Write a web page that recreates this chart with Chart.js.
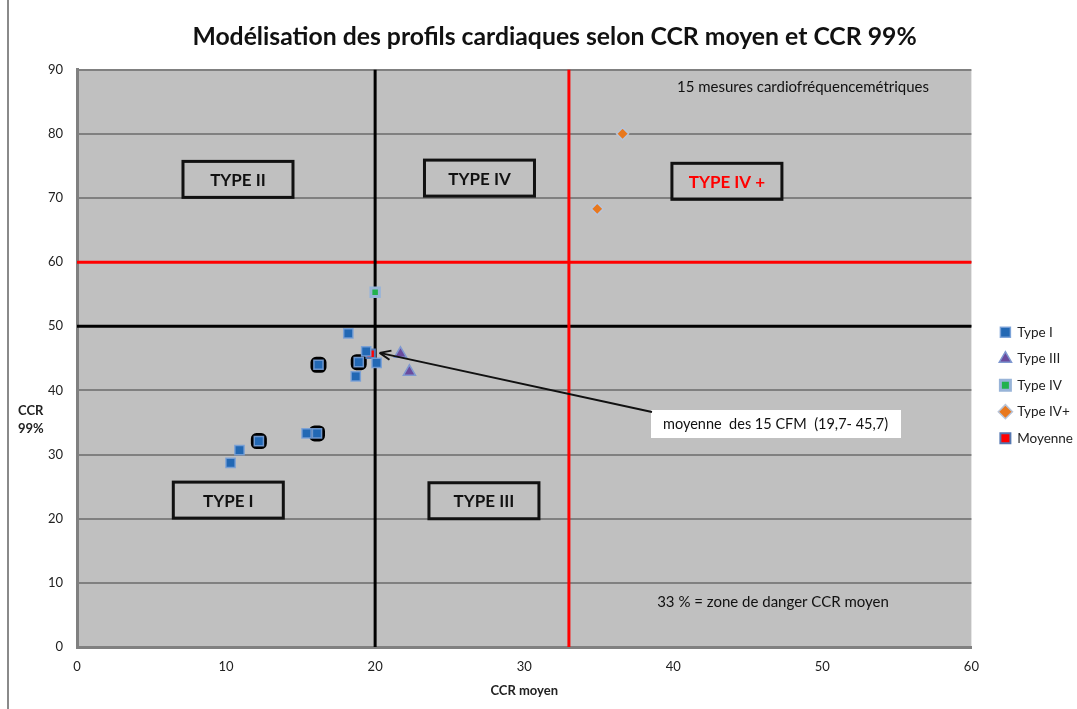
<!DOCTYPE html>
<html>
<head>
<meta charset="utf-8">
<script src="https://cdn.jsdelivr.net/npm/chart.js@4/dist/chart.umd.min.js"></script>
<style>
  html, body { margin: 0; padding: 0; background: #fff; }
  #wrap { width: 1077px; height: 709px; }
</style>
</head>
<body>
<div id="wrap"><canvas id="cardio"></canvas></div>
<script>
// values
const typeI_x   = [10.3, 10.9, 12.2, 15.4, 16.1, 16.2, 18.2, 18.7, 18.9, 19.4, 20.1];
const typeI_y   = [28.7, 30.7, 32.1, 33.3, 33.3, 44.0, 48.9, 42.2, 44.4, 46.1, 44.3];
const typeIII_x = [21.7, 22.3];
const typeIII_y = [45.7, 42.9];
const typeIV_x  = [20.0];
const typeIV_y  = [55.3];
const typeIVp_x = [36.6, 34.9];
const typeIVp_y = [80.0, 68.3];
const moyenne_x = [19.7];
const moyenne_y = [45.7];
// retained points (black framed squares)
const retenus_x = [12.2, 16.1, 16.2, 18.9];
const retenus_y = [32.1, 33.3, 44.0, 44.4];

const xTicks = [0, 10, 20, 30, 40, 50, 60];
const yTicks = [0, 10, 20, 30, 40, 50, 60, 70, 80, 90];

// threshold lines
const seuilX_noir = 20, seuilX_rouge = 33;
const seuilY_noir = 50, seuilY_rouge = 60;

const FONT = "Lato, 'Open Sans', sans-serif";

const pts = (xs, ys) => xs.map((x, i) => ({ x: x, y: ys[i] }));

// boxes: [label, x, y, colour]
const zoneBoxes = [
  ["TYPE II", 10.8, 72.9, "#111"],
  ["TYPE IV", 27.0, 73.1, "#111"],
  ["TYPE IV +", 43.6, 72.6, "#ff0000"],
  ["TYPE I", 10.15, 22.9, "#111"],
  ["TYPE III", 27.3, 22.8, "#111"]
];

const decor = {
  id: "decor",
  beforeDraw(chart) {
    const { ctx, chartArea: a } = chart;
    ctx.save();
    ctx.fillStyle = "#c0c0c0";
    ctx.fillRect(a.left, a.top, a.right - a.left, a.bottom - a.top);
    // outer frame (left edge)
    ctx.strokeStyle = "#8a8a8a";
    ctx.lineWidth = 2;
    ctx.beginPath();
    ctx.moveTo(8, 0);
    ctx.lineTo(8, 709);
    ctx.stroke();
    ctx.restore();
  },
  beforeDatasetsDraw(chart) {
    const { ctx, chartArea: a, scales: { x, y } } = chart;
    ctx.save();
    ctx.lineWidth = 3;
    const vline = (v, c) => {
      ctx.strokeStyle = c;
      ctx.beginPath();
      ctx.moveTo(x.getPixelForValue(v), a.top);
      ctx.lineTo(x.getPixelForValue(v), a.bottom);
      ctx.stroke();
    };
    const hline = (v, c) => {
      ctx.strokeStyle = c;
      ctx.beginPath();
      ctx.moveTo(a.left, y.getPixelForValue(v));
      ctx.lineTo(a.right, y.getPixelForValue(v));
      ctx.stroke();
    };
    hline(seuilY_noir, "#000");
    hline(seuilY_rouge, "#ff0000");
    vline(seuilX_noir, "#000");
    vline(seuilX_rouge, "#ff0000");
    ctx.restore();
  },
  afterDatasetsDraw(chart) {
    const { ctx, scales: { x, y } } = chart;
    ctx.save();

    // zone boxes
    ctx.textAlign = "center";
    ctx.textBaseline = "middle";
    ctx.font = "bold 17px " + FONT;
    zoneBoxes.forEach(([t, bx, by, col]) => {
      const cx = x.getPixelForValue(bx), cy = y.getPixelForValue(by);
      ctx.lineWidth = 3;
      ctx.strokeStyle = "#111";
      ctx.strokeRect(cx - 55, cy - 18, 110, 36);
      ctx.fillStyle = col;
      ctx.fillText(t, cx, cy + 1);
    });

    // free texts
    ctx.fillStyle = "#111";
    ctx.font = "15px " + FONT;
    ctx.fillText("15 mesures cardiofréquencemétriques", 803, 87);
    ctx.fillText("33 % = zone de danger CCR moyen", 773, 602);

    // callout for the average
    ctx.fillStyle = "#fff";
    ctx.fillRect(651, 410, 250, 28);
    ctx.fillStyle = "#111";
    ctx.textAlign = "left";
    ctx.font = "14.5px " + FONT;
    ctx.fillText("moyenne  des 15 CFM  (19,7- 45,7)", 663, 424);

    const x0 = 652, y0 = 412;
    const x1 = x.getPixelForValue(moyenne_x[0]) + 9, y1 = y.getPixelForValue(moyenne_y[0]) - 1;
    ctx.strokeStyle = "#111";
    ctx.lineWidth = 2;
    ctx.beginPath();
    ctx.moveTo(x0, y0);
    ctx.lineTo(x1, y1);
    ctx.stroke();
    const ang = Math.atan2(y1 - y0, x1 - x0);
    ctx.beginPath();
    ctx.moveTo(x1, y1);
    ctx.lineTo(x1 - 12 * Math.cos(ang - 0.4), y1 - 12 * Math.sin(ang - 0.4));
    ctx.moveTo(x1, y1);
    ctx.lineTo(x1 - 12 * Math.cos(ang + 0.4), y1 - 12 * Math.sin(ang + 0.4));
    ctx.stroke();

    // y axis title, horizontal
    ctx.font = "bold 13px " + FONT;
    ctx.fillStyle = "#222";
    ctx.fillText("CCR", 18, 411);
    ctx.fillText("99%", 18, 429);
    ctx.restore();
  }
};

new Chart(document.getElementById("cardio"), {
  type: "scatter",
  data: {
    datasets: [
      {
        label: "Type I",
        data: pts(typeI_x, typeI_y),
        pointStyle: "rect",
        pointRadius: 6.5,
        pointHoverRadius: 6.5,
        backgroundColor: "#2268b4",
        borderColor: "rgba(120,160,215,0.9)",
        borderWidth: 1.5
      },
      {
        label: "Type III",
        data: pts(typeIII_x, typeIII_y),
        pointStyle: "triangle",
        pointRadius: 7,
        pointHoverRadius: 7,
        backgroundColor: "#6a4b9e",
        borderColor: "#7f98d0",
        borderWidth: 1.5
      },
      {
        label: "Type IV",
        data: pts(typeIV_x, typeIV_y),
        pointStyle: "rect",
        pointRadius: 6,
        pointHoverRadius: 6,
        backgroundColor: "#22b24c",
        borderColor: "#98b4d8",
        borderWidth: 3
      },
      {
        label: "Type IV+",
        data: pts(typeIVp_x, typeIVp_y),
        pointStyle: "rectRot",
        pointRadius: 6,
        pointHoverRadius: 6,
        backgroundColor: "#e8781e",
        borderColor: "#b8c4d8",
        borderWidth: 1.5
      },
      {
        label: "Moyenne",
        data: pts(moyenne_x, moyenne_y),
        pointStyle: "rect",
        pointRadius: 6,
        pointHoverRadius: 6,
        backgroundColor: "#ff0000",
        borderColor: "#5577b0",
        borderWidth: 2
      },
      {
        label: "retenus",
        data: pts(retenus_x, retenus_y),
        pointStyle: "rectRounded",
        pointRadius: 7,
        pointHoverRadius: 7,
        backgroundColor: "#2268b4",
        borderColor: "#000",
        borderWidth: 4
      }
    ]
  },
  options: {
    responsive: true,
    maintainAspectRatio: false,
    animation: false,
    layout: { padding: { left: 8, right: -6, top: 0, bottom: 0 } },
    plugins: {
      title: {
        display: true,
        text: "   Modélisation des profils cardiaques selon CCR moyen et CCR 99%",
        color: "#111",
        font: { family: FONT, size: 24.75, weight: "bold" },
        padding: { top: 22, bottom: 18 }
      },
      legend: {
        position: "right",
        align: "center",
        title: { display: true, text: "", padding: { top: 47 } },
        labels: {
          usePointStyle: true,
          boxWidth: 10,
          boxHeight: 10,
          padding: 13,
          color: "#222",
          font: { family: FONT, size: 13.5 },
          filter: item => item.text !== "retenus"
        }
      },
      tooltip: { enabled: false }
    },
    scales: {
      x: {
        type: "linear",
        min: 0,
        max: 60,
        afterBuildTicks: s => { s.ticks = xTicks.map(v => ({ value: v })); },
        afterFit: s => { s.height = 62; },
        grid: { display: false, drawTicks: false },
        border: { color: "#808080", width: 3 },
        ticks: { color: "#222", padding: 12, font: { family: FONT, size: 13 } },
        title: {
          display: true,
          text: "CCR moyen",
          color: "#222",
          font: { family: FONT, size: 13, weight: "bold" },
          padding: { top: 2, bottom: 10 }
        }
      },
      y: {
        type: "linear",
        min: 0,
        max: 90,
        afterBuildTicks: s => { s.ticks = yTicks.map(v => ({ value: v })); },
        afterFit: s => { s.width = 69; },
        grid: { color: "#808080", lineWidth: 2, drawTicks: false },
        border: { color: "#808080", width: 3 },
        ticks: { color: "#222", padding: 14, font: { family: FONT, size: 13 } }
      },
      gap: {
        type: "linear",
        position: "right",
        min: 0,
        max: 90,
        afterFit: s => { s.width = 16; },
        grid: { display: false, drawTicks: false },
        border: { display: false },
        ticks: { display: false }
      }
    }
  },
  plugins: [decor]
});
</script>
</body>
</html>
